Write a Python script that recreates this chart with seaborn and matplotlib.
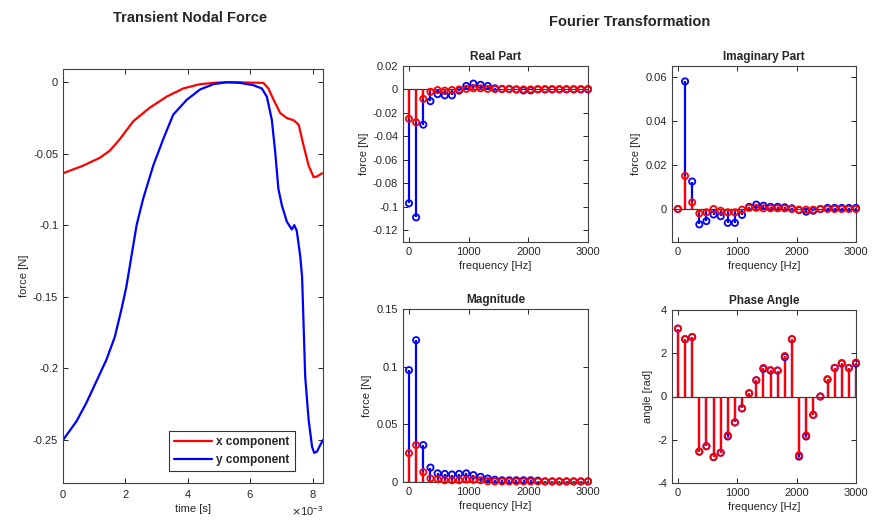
import numpy as np
import matplotlib
matplotlib.use("Agg")
import matplotlib.pyplot as plt
import matplotlib.ticker as ticker
import seaborn as sns

# =============================================================================
# DATA
# =============================================================================
# transient nodal force, time in ms
t_x = [0, 0.64, 1.18, 1.5, 1.82, 2.25, 2.78, 3.32, 3.85, 4.39, 4.92, 5.46, 6.0,
       6.42, 6.58, 6.75, 6.96, 7.17, 7.39, 7.55, 7.71, 7.87, 8.03, 8.14, 8.3]
f_x = [-0.0638, -0.0585, -0.053, -0.048, -0.040, -0.0275, -0.018, -0.0103,
       -0.0046, -0.0016, -0.0005, -0.0002, -0.0005, -0.0007, -0.0046, -0.0126,
       -0.0218, -0.0252, -0.0268, -0.0298, -0.0447, -0.0585, -0.0665, -0.066,
       -0.0638]

t_y = [0, 0.43, 0.75, 1.07, 1.39, 1.66, 1.87, 2.03, 2.19, 2.36, 2.57, 2.89,
       3.21, 3.53, 3.96, 4.39, 4.82, 5.25, 5.67, 6.1, 6.37, 6.53, 6.69, 6.8,
       6.9, 7.01, 7.17, 7.33, 7.41, 7.49, 7.6, 7.66, 7.71, 7.76, 7.87, 7.98,
       8.05, 8.14, 8.24, 8.33]
f_y = [-0.25, -0.237, -0.224, -0.209, -0.194, -0.178, -0.159, -0.143, -0.122,
       -0.0998, -0.0814, -0.0585, -0.040, -0.0229, -0.0126, -0.0053, -0.0016,
       -0.0002, -0.0007, -0.0023, -0.0046, -0.0103, -0.0264, -0.0493, -0.0745,
       -0.086, -0.0975, -0.103, -0.100, -0.104, -0.1216, -0.136, -0.171,
       -0.206, -0.236, -0.2547, -0.259, -0.258, -0.2535, -0.25]

# Fourier transformation, 120 Hz spacing
freq = [0, 120, 240, 360, 480, 600, 720, 840, 960, 1080, 1200, 1320, 1440,
        1560, 1680, 1800, 1920, 2040, 2160, 2280, 2400, 2520, 2640, 2760,
        2880, 3000]

real_x = [-0.025, -0.028, -0.008, -0.002, -0.0005, -0.001, -0.0005, 0.0,
          0.0005, 0.001, 0.001, 0.0005, 0.0003, 0.0003, 0.0003, 0.0, 0.0,
          0.0, 0.0003, 0.0003, 0.0003, 0.0003, 0.0003, 0.0003, 0.0003, 0.0005]
real_y = [-0.097, -0.109, -0.030, -0.010, -0.004, -0.005, -0.005, -0.001,
          0.003, 0.005, 0.004, 0.003, 0.001, 0.0005, 0.0005, 0.0, -0.0008,
          -0.0008, 0.0, 0.0, 0.0, 0.0, 0.0, 0.0, 0.0, 0.0]

imag_x = [0.0, 0.015, 0.003, -0.002, -0.0015, 0.0, -0.0008, -0.0015, -0.0015,
          -0.0003, 0.0005, 0.0005, 0.0003, 0.0003, 0.0003, 0.0003, 0.0,
          -0.0003, -0.0003, -0.0003, 0.0, 0.0, 0.0, 0.0, 0.0, 0.0]
imag_y = [0.0, 0.058, 0.0125, -0.007, -0.0055, -0.0025, -0.0033, -0.0063,
          -0.0063, -0.0027, 0.001, 0.002, 0.0015, 0.001, 0.001, 0.0008, 0.0003,
          -0.0005, -0.0012, -0.0008, 0.0, 0.0005, 0.0005, 0.0005, 0.0005, 0.0005]

mag_x = [0.025, 0.032, 0.0085, 0.003, 0.0025, 0.0015, 0.0015, 0.0015, 0.002,
         0.0018, 0.0015, 0.0007, 0.0005, 0.0005, 0.0005, 0.0005, 0.0005,
         0.0005, 0.0005, 0.0005, 0.0005, 0.0005, 0.0005, 0.0005, 0.0005, 0.0005]
mag_y = [0.097, 0.123, 0.032, 0.0125, 0.0075, 0.007, 0.0065, 0.007, 0.0075,
         0.006, 0.0045, 0.003, 0.002, 0.0015, 0.0015, 0.0015, 0.0015, 0.0015,
         0.0012, 0.0005, 0.0005, 0.0005, 0.0005, 0.0005, 0.0005, 0.0005]

phase_x = [3.14, 2.65, 2.75, -2.55, -2.3, -2.8, -2.6, -1.8, -1.2, -0.55, 0.15,
           0.75, 1.32, 1.22, 1.2, 1.87, 2.65, -2.72, -1.8, -0.85, 0.0, 0.8,
           1.32, 1.55, 1.32, 1.57]
phase_y = [3.14, 2.65, 2.75, -2.55, -2.3, -2.8, -2.6, -1.85, -1.2, -0.55, 0.15,
           0.75, 1.28, 1.2, 1.2, 1.82, 2.65, -2.78, -1.85, -0.85, 0.0, 0.78,
           1.32, 1.52, 1.32, 1.52]

RED, BLUE = "#ff0000", "#0000ff"

# =============================================================================
# STYLE
# =============================================================================
sns.set_theme(style="ticks")
plt.rcParams["font.family"] = ["Liberation Sans", "DejaVu Sans"]
plt.rcParams["axes.unicode_minus"] = False
plt.rcParams["xtick.direction"] = "in"
plt.rcParams["ytick.direction"] = "in"
plt.rcParams["xtick.top"] = True
plt.rcParams["ytick.right"] = True
plt.rcParams["axes.edgecolor"] = "#404040"
plt.rcParams["axes.linewidth"] = 0.8

fig = plt.figure(figsize=(8.8, 5.2), dpi=100)
W, H = 880.0, 520.0

def add_axes(l, t, r, b):
    return fig.add_axes([l / W, 1 - b / H, (r - l) / W, (b - t) / H])

fmt = ticker.FuncFormatter(lambda v, _: f"{v:g}")

def style(ax, fs=8):
    ax.tick_params(labelsize=fs, length=3.5, width=0.7, colors="#262626")
    for s in ax.spines.values():
        s.set_visible(True)

# =============================================================================
# LEFT: TRANSIENT NODAL FORCE
# =============================================================================
ax0 = add_axes(63, 69, 323, 483)
sns.lineplot(x=np.array(t_x) * 1e-3, y=f_x, ax=ax0, color=RED, lw=1.6,
             label="x component", sort=False)
sns.lineplot(x=np.array(t_y) * 1e-3, y=f_y, ax=ax0, color=BLUE, lw=1.6,
             label="y component", sort=False)
ax0.set_xlim(0, 8.33e-3)
ax0.set_ylim(-0.28, 0.009)
ax0.set_xticks([0, 2e-3, 4e-3, 6e-3, 8e-3])
ax0.set_yticks([0, -0.05, -0.1, -0.15, -0.2, -0.25])
ax0.yaxis.set_major_formatter(fmt)
ax0.ticklabel_format(axis="x", style="sci", scilimits=(0, 0), useMathText=True)
ax0.xaxis.get_offset_text().set_fontsize(8)
ax0.set_xlabel("time [s]", fontsize=8, labelpad=3)
ax0.set_ylabel("force [N]", fontsize=8, labelpad=3)
style(ax0)
leg = ax0.legend(loc="lower right", bbox_to_anchor=(0.892, 0.029),
                 borderaxespad=0, fontsize=8.5, frameon=True, fancybox=False,
                 edgecolor="black", borderpad=0.45, handlelength=3.2,
                 handletextpad=0.4, labelspacing=0.45)
leg.get_frame().set_linewidth(0.8)
for txt in leg.get_texts():
    txt.set_fontweight("bold")
fig.text(190 / W, 1 - 18 / H, "Transient Nodal Force", ha="center",
         va="center", fontsize=10.5, fontweight="bold")
fig.text(630 / W, 1 - 22 / H, "Fourier Transformation", ha="center",
         va="center", fontsize=10.5, fontweight="bold")

# =============================================================================
# RIGHT: STEM PLOTS
# =============================================================================
def stem(ax, ys, color):
    ax.vlines(freq, 0, ys, color=color, lw=1.6, zorder=2)
    sns.scatterplot(x=freq, y=ys, ax=ax, marker="o", s=20,
                    facecolors="none", edgecolors=color, linewidths=1.3,
                    zorder=3, legend=False, clip_on=False)

panels = [
    ((403, 66, 588, 242), "Real Part", real_y, real_x, (-0.13, 0.02),
     [-0.12, -0.1, -0.08, -0.06, -0.04, -0.02, 0, 0.02], "force [N]"),
    ((672, 66, 856, 242), "Imaginary Part", imag_y, imag_x, (-0.015, 0.065),
     [0, 0.02, 0.04, 0.06], "force [N]"),
    ((403, 309, 588, 482), "Magnitude", mag_y, mag_x, (0, 0.15),
     [0, 0.05, 0.1, 0.15], "force [N]"),
    ((672, 310, 856, 483), "Phase Angle", phase_y, phase_x, (-4, 4),
     [-4, -2, 0, 2, 4], "angle [rad]"),
]

for box, title, yb, yr, ylim, yt, ylab in panels:
    ax = add_axes(*box)
    ax.axhline(0, color="#3a3a3a", lw=0.9, zorder=1)
    stem(ax, yb, BLUE)
    stem(ax, yr, RED)
    ax.set_xlim(-100, 3000)
    ax.set_ylim(*ylim)
    ax.set_xticks([0, 1000, 2000, 3000])
    ax.set_yticks(yt)
    ax.yaxis.set_major_formatter(fmt)
    ax.set_title(title, fontsize=8.5, fontweight="bold", pad=4)
    ax.set_xlabel("frequency [Hz]", fontsize=8, labelpad=3)
    ax.set_ylabel(ylab, fontsize=8, labelpad=3)
    style(ax)

fig.savefig("out.png", dpi=100)
